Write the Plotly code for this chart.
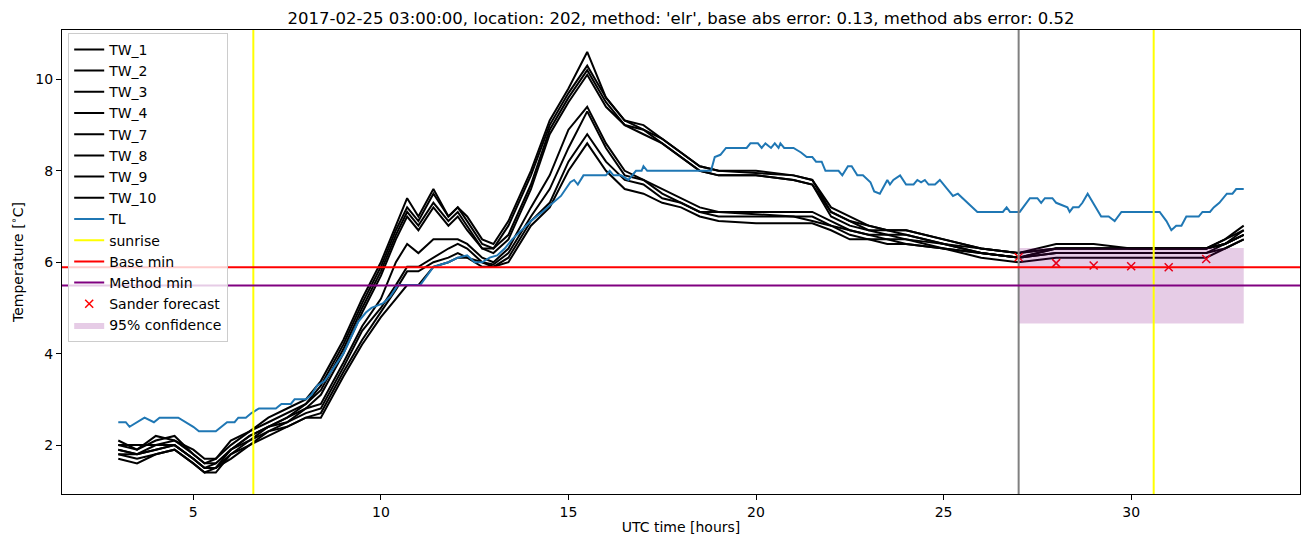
import plotly.graph_objects as go

# ---------------- data ----------------
TW_T = [3.0, 3.5, 4.0, 4.5, 5.0, 5.3, 5.6, 6.0, 6.5, 7.0, 7.5, 8.0, 8.4, 9.0, 9.5, 10.0, 10.4, 10.7,
        11.0, 11.4, 11.8, 12.05, 12.3, 12.7, 13.0, 13.4, 14.0, 14.5, 15.0, 15.5, 16.0, 16.5, 17.0, 17.5,
        18.0, 18.5, 19.0, 20.0, 21.0, 21.5, 22.0, 22.5, 23.0, 23.5, 24.0, 25.0, 26.0, 27.0, 28.0, 29.0,
        30.0, 31.0, 32.0, 32.5, 33.0]

TW_1 = [2.1, 1.9, 2.1, 2.2, 1.8, 1.6, 1.7, 2.1, 2.3, 2.6, 2.8, 3.0, 3.4, 4.3, 5.2, 6.0, 6.8, 7.4,
        7.0, 7.6, 7.0, 7.2, 7.0, 6.5, 6.4, 6.9, 8.0, 9.1, 9.8, 10.6, 9.6, 9.1, 9.0, 8.7,
        8.4, 8.1, 8.0, 8.0, 7.9, 7.8, 7.2, 7.0, 6.8, 6.7, 6.7, 6.5, 6.3, 6.2, 6.3, 6.3,
        6.3, 6.3, 6.3, 6.5, 6.8]
TW_2 = [2.0, 2.0, 2.0, 2.1, 1.9, 1.7, 1.7, 2.0, 2.3, 2.5, 2.7, 2.9, 3.3, 4.2, 5.1, 5.9, 6.7, 7.2,
        6.9, 7.5, 7.0, 7.2, 6.9, 6.4, 6.3, 6.8, 7.9, 9.0, 9.7, 10.3, 9.6, 9.1, 8.9, 8.7,
        8.4, 8.1, 8.0, 7.95, 7.9, 7.8, 7.1, 6.9, 6.8, 6.7, 6.7, 6.5, 6.3, 6.2, 6.4, 6.4,
        6.3, 6.3, 6.3, 6.5, 6.7]
TW_3 = [1.9, 1.8, 2.0, 2.0, 1.7, 1.5, 1.6, 1.9, 2.2, 2.4, 2.6, 2.9, 3.2, 4.1, 5.0, 5.8, 6.6, 7.1,
        6.8, 7.3, 6.9, 7.1, 6.8, 6.3, 6.3, 6.6, 7.7, 8.9, 9.6, 10.2, 9.5, 9.0, 8.9, 8.6,
        8.3, 8.0, 7.9, 7.9, 7.8, 7.7, 7.1, 6.9, 6.7, 6.7, 6.6, 6.4, 6.2, 6.1, 6.3, 6.3,
        6.3, 6.3, 6.3, 6.4, 6.6]
TW_4 = [1.8, 1.8, 1.9, 2.0, 1.7, 1.5, 1.5, 1.9, 2.1, 2.4, 2.6, 2.8, 3.1, 4.0, 4.9, 5.7, 6.5, 7.0,
        6.7, 7.2, 6.8, 7.0, 6.7, 6.3, 6.2, 6.5, 7.6, 8.8, 9.5, 10.1, 9.4, 9.0, 8.8, 8.6,
        8.3, 8.0, 7.9, 7.9, 7.8, 7.7, 7.0, 6.8, 6.7, 6.6, 6.6, 6.4, 6.2, 6.1, 6.2, 6.2,
        6.2, 6.2, 6.2, 6.4, 6.6]
TW_7 = [2.0, 1.9, 2.2, 2.1, 1.8, 1.6, 1.6, 1.9, 2.2, 2.4, 2.5, 2.8, 2.9, 3.8, 4.6, 5.2, 6.0, 6.4,
        6.2, 6.5, 6.5, 6.5, 6.4, 6.1, 6.0, 6.3, 7.2, 7.9, 8.9, 9.4, 8.6, 8.0, 7.8, 7.6,
        7.4, 7.2, 7.1, 7.1, 7.1, 7.1, 6.9, 6.7, 6.6, 6.6, 6.5, 6.4, 6.3, 6.2, 6.3, 6.3,
        6.3, 6.3, 6.3, 6.4, 6.7]
TW_8 = [1.9, 1.8, 1.9, 2.0, 1.7, 1.5, 1.5, 1.8, 2.1, 2.3, 2.5, 2.7, 2.8, 3.7, 4.5, 5.0, 5.5, 5.9,
        5.9, 6.1, 6.3, 6.4, 6.3, 6.0, 5.95, 6.2, 7.0, 7.6, 8.5, 9.3, 8.5, 7.9, 7.8, 7.5,
        7.3, 7.1, 7.1, 7.05, 7.0, 7.0, 6.8, 6.7, 6.6, 6.5, 6.5, 6.3, 6.2, 6.1, 6.3, 6.3,
        6.3, 6.3, 6.3, 6.4, 6.6]
TW_9 = [1.8, 1.7, 1.8, 1.9, 1.6, 1.4, 1.4, 1.8, 2.0, 2.3, 2.4, 2.6, 2.7, 3.6, 4.3, 4.9, 5.4, 5.8,
        5.8, 6.0, 6.1, 6.2, 6.1, 6.0, 5.9, 6.1, 6.9, 7.3, 8.2, 8.8, 8.2, 7.8, 7.7, 7.4,
        7.3, 7.1, 7.0, 7.0, 7.0, 6.9, 6.8, 6.6, 6.5, 6.5, 6.4, 6.3, 6.2, 6.1, 6.2, 6.2,
        6.2, 6.2, 6.2, 6.3, 6.5]
TW_10 = [1.7, 1.6, 1.8, 1.9, 1.6, 1.4, 1.5, 1.7, 2.0, 2.2, 2.4, 2.6, 2.6, 3.5, 4.2, 4.8, 5.2, 5.5,
         5.5, 5.9, 6.0, 6.1, 6.1, 5.9, 5.9, 6.0, 6.8, 7.2, 8.0, 8.6, 8.0, 7.6, 7.5, 7.3,
         7.2, 7.0, 6.9, 6.85, 6.85, 6.85, 6.7, 6.5, 6.5, 6.4, 6.4, 6.3, 6.1, 6.0, 6.1, 6.1,
         6.1, 6.1, 6.1, 6.3, 6.5]

TL_T = [3.0, 3.2, 3.3, 3.5, 3.7, 3.95, 4.1, 4.6, 4.8, 5.0, 5.15, 5.6, 5.75, 5.9, 6.1, 6.2, 6.4, 6.55,
        6.75, 7.2, 7.35, 7.6, 7.7, 8.0, 8.15, 8.3, 8.5, 9.0, 9.4, 9.6, 9.75, 10.05, 10.25, 10.45,
        11.05, 11.4, 11.8, 12.05, 12.3, 12.5, 12.7, 12.9, 13.1, 13.3, 13.5, 13.75, 14.0, 14.3, 14.6,
        14.8, 15.05, 15.15, 15.25, 15.4, 16.0, 16.1, 16.2, 16.4, 16.6, 16.8, 16.95, 17.0, 17.1, 18.8,
        18.9, 19.05, 19.2, 19.75, 19.85, 20.05, 20.15, 20.25, 20.4, 20.5, 20.6, 20.65, 20.75, 21.0,
        21.1, 21.2, 21.35, 21.5, 21.6, 21.75, 21.85, 22.2, 22.3, 22.45, 22.55, 22.7, 22.85, 23.05,
        23.15, 23.3, 23.5, 23.57, 23.66, 23.84, 24.0, 24.2, 24.3, 24.4, 24.5, 24.6, 24.77, 24.9,
        25.1, 25.25, 25.38, 25.5, 25.7, 25.9, 26.58, 26.68, 26.77, 27.03, 27.3, 27.5, 27.6, 27.7,
        27.9, 28.0, 28.15, 28.3, 28.36, 28.45, 28.6, 28.7, 28.84, 29.2, 29.4, 29.56, 29.74, 30.76,
        30.94, 31.07, 31.2, 31.34, 31.47, 31.8, 31.9, 32.1, 32.2, 32.35, 32.55, 32.7, 32.8, 33.0]
TL = [2.5, 2.5, 2.4, 2.5, 2.6, 2.5, 2.6, 2.6, 2.5, 2.4, 2.3, 2.3, 2.4, 2.5, 2.5, 2.6, 2.6, 2.7,
      2.8, 2.8, 2.9, 2.9, 3.0, 3.0, 3.1, 3.3, 3.4, 4.0, 4.7, 4.9, 5.0, 5.1, 5.25, 5.5,
      5.5, 5.9, 6.0, 6.1, 6.15, 6.0, 6.0, 6.1, 6.15, 6.3, 6.5, 6.7, 6.9, 7.1, 7.3,
      7.45, 7.75, 7.8, 7.7, 7.9, 7.9, 8.0, 7.9, 7.9, 7.8, 8.0, 8.0, 8.1, 8.0, 8.0,
      8.3, 8.35, 8.5, 8.5, 8.6, 8.6, 8.5, 8.6, 8.5, 8.6, 8.5, 8.6, 8.5, 8.5,
      8.45, 8.4, 8.3, 8.3, 8.2, 8.2, 8.0, 8.0, 7.9, 8.1, 8.1, 7.9, 7.9, 7.75,
      7.55, 7.5, 7.8, 7.7, 7.8, 7.9, 7.7, 7.7, 7.8, 7.75, 7.8, 7.7, 7.7, 7.8,
      7.6, 7.45, 7.5, 7.4, 7.25, 7.1, 7.1, 7.2, 7.1, 7.1, 7.4, 7.4, 7.3, 7.4,
      7.4, 7.3, 7.25, 7.2, 7.1, 7.2, 7.2, 7.3, 7.5, 7.0, 7.0, 6.9, 7.1, 7.1,
      6.9, 6.7, 6.8, 6.8, 7.0, 7.0, 7.1, 7.1, 7.2, 7.3, 7.5, 7.5, 7.6, 7.6]

SUNRISE = [6.6, 30.6]
FORECAST_START = 27.0
BASE_MIN = 5.89
METHOD_MIN = 5.49
SANDER_T = [27, 28, 29, 30, 31, 32]
SANDER = [6.11, 5.98, 5.93, 5.91, 5.89, 6.07]
CONF_T = [27.0, 33.0]
CONF_LO = [4.66, 4.66]
CONF_HI = [6.31, 6.31]

TITLE = "2017-02-25 03:00:00, location: 202, method: 'elr', base abs error: 0.13, method abs error: 0.52"

# ---------------- figure ----------------
FONT = "DejaVu Sans"
fig = go.Figure()

tw_series = [("TW_1", TW_1), ("TW_2", TW_2), ("TW_3", TW_3), ("TW_4", TW_4),
             ("TW_7", TW_7), ("TW_8", TW_8), ("TW_9", TW_9), ("TW_10", TW_10)]
for name, vals in tw_series:
    fig.add_trace(go.Scatter(x=TW_T, y=vals, mode="lines", name=name,
                             line=dict(color="black", width=2)))

fig.add_trace(go.Scatter(x=TL_T, y=TL, mode="lines", name="TL",
                         line=dict(color="#1f77b4", width=2)))

# legend-only entries for reference lines (drawn as shapes)
fig.add_trace(go.Scatter(x=[None], y=[None], mode="lines", name="sunrise",
                         line=dict(color="yellow", width=2)))
fig.add_trace(go.Scatter(x=[None], y=[None], mode="lines", name="Base min",
                         line=dict(color="red", width=2)))
fig.add_trace(go.Scatter(x=[None], y=[None], mode="lines", name="Method min",
                         line=dict(color="purple", width=2)))

fig.add_trace(go.Scatter(x=SANDER_T, y=SANDER, mode="markers", name="Sander forecast",
                         marker=dict(symbol="x-thin", size=8, color="red",
                                     line=dict(width=1.5, color="red"))))

fig.add_trace(go.Scatter(x=CONF_T, y=CONF_LO, mode="lines", line=dict(width=0),
                         showlegend=False, hoverinfo="skip"))
fig.add_trace(go.Scatter(x=CONF_T, y=CONF_HI, mode="lines", line=dict(width=0),
                         fill="tonexty", fillcolor="rgba(128,0,128,0.2)",
                         name="95% confidence"))

for s in SUNRISE:
    fig.add_shape(type="line", xref="x", yref="paper", x0=s, x1=s, y0=0, y1=1,
                  line=dict(color="yellow", width=2), layer="above")
fig.add_shape(type="line", xref="x", yref="paper", x0=FORECAST_START, x1=FORECAST_START,
              y0=0, y1=1, line=dict(color="grey", width=2), layer="above")
fig.add_shape(type="line", xref="paper", yref="y", x0=0, x1=1, y0=BASE_MIN, y1=BASE_MIN,
              line=dict(color="red", width=2), layer="above")
fig.add_shape(type="line", xref="paper", yref="y", x0=0, x1=1, y0=METHOD_MIN, y1=METHOD_MIN,
              line=dict(color="purple", width=2), layer="above")

axis_common = dict(showgrid=False, zeroline=False, showline=True, mirror=True,
                   linecolor="black", linewidth=1, ticks="outside", ticklen=5,
                   tickwidth=1, tickcolor="black",
                   tickfont=dict(family=FONT, size=14, color="black"))

fig.update_layout(
    width=1310, height=547,
    margin=dict(l=62, r=10, t=30, b=53),
    paper_bgcolor="white", plot_bgcolor="white",
    font=dict(family=FONT, size=14, color="black"),
    title=dict(text=TITLE, x=0.5, xref="paper", xanchor="center",
               y=0.967, yref="container", yanchor="middle",
               font=dict(family=FONT, size=16.5, color="black")),
    xaxis=dict(range=[1.5, 34.5], tickvals=[5, 10, 15, 20, 25, 30],
               title=dict(text="UTC time [hours]", standoff=3,
                          font=dict(family=FONT, size=14)),
               **axis_common),
    yaxis=dict(range=[0.93, 11.08], tickvals=[2, 4, 6, 8, 10],
               title=dict(text="Temperature [<sup>∘</sup>C]", standoff=8,
                          font=dict(family=FONT, size=14)),
               **axis_common),
    legend=dict(x=0.005, y=0.994, xanchor="left", yanchor="top",
                traceorder="normal",
                bgcolor="rgba(255,255,255,0.8)", bordercolor="#cccccc", borderwidth=1,
                font=dict(family=FONT, size=14), itemwidth=30, tracegroupgap=0),
    showlegend=True,
)

fig.write_html("out.html")
